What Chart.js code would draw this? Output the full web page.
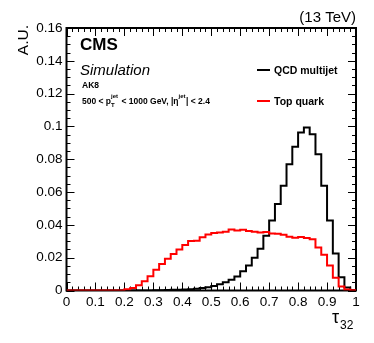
<!DOCTYPE html>
<html>
<head>
<meta charset="utf-8">
<script src="https://cdn.jsdelivr.net/npm/chart.js@4"></script>
<style>
  html, body { margin: 0; padding: 0; background: #fff; }
  canvas { display: block; }
</style>
</head>
<body>
<canvas id="tauChart" width="374" height="343"></canvas>
<script>
// tau32 distribution, 50 bins of 0.02 between 0 and 1
var binWidth = 0.02;
var nBins = 50;

var qcdValues = [
  0, 0, 0, 0, 0, 0, 0, 0, 0, 0,
  0, 0, 0, 0, 0, 0.0001, 0.0002, 0.0003, 0.0004, 0.0005,
  0.0006, 0.0008, 0.0011, 0.0015, 0.0020, 0.0028, 0.0038, 0.0050, 0.0066, 0.0086,
  0.0117, 0.0152, 0.0200, 0.0254, 0.0334, 0.0427, 0.0527, 0.0639, 0.0770, 0.0876,
  0.0963, 0.0993, 0.0953, 0.0831, 0.0639, 0.0426, 0.0225, 0.0081, 0.0018, 0.0003
];

var topValues = [
  0, 0, 0, 0, 0, 0, 0, 0, 0, 0,
  0.0008, 0.0016, 0.0032, 0.0056, 0.0087, 0.0127, 0.0162, 0.0193, 0.0222, 0.0250,
  0.0277, 0.0302, 0.0304, 0.0324, 0.0342, 0.0350, 0.0353, 0.0358, 0.0372, 0.0366,
  0.0370, 0.0363, 0.0358, 0.0354, 0.0357, 0.0348, 0.0346, 0.0340, 0.0328, 0.0322,
  0.0326, 0.0320, 0.0312, 0.0262, 0.0218, 0.0152, 0.0078, 0.0025, 0.0006, 0.0001
];

var xTicks = [0, 0.1, 0.2, 0.3, 0.4, 0.5, 0.6, 0.7, 0.8, 0.9, 1];
var yTicks = [0, 0.02, 0.04, 0.06, 0.08, 0.1, 0.12, 0.14, 0.16];
var xMinorStep = 0.02;
var yMinorStep = 0.005;

var font = "'Liberation Sans', Arial, Helvetica, sans-serif";

// one point per lower bin edge, plus the upper edge of the last bin
function histPoints(vals) {
  var pts = vals.map(function(v, i) { return { x: i * binWidth, y: v }; });
  pts.push({ x: nBins * binWidth, y: vals[vals.length - 1] });
  return pts;
}

function fmt(v) {
  if (Math.abs(v) < 1e-9) return '0';
  return String(parseFloat(v.toFixed(3)));
}

var rootStyle = {
  id: 'rootStyle',
  beforeDatasetsDraw: function(chart) {
    var ctx = chart.ctx, a = chart.chartArea;
    var xs = chart.scales.x, ys = chart.scales.y;
    ctx.save();
    ctx.strokeStyle = '#000';
    ctx.lineWidth = 1;
    // minor + major ticks on all four sides, pointing inward
    function xTick(v, len) {
      var px = Math.round(xs.getPixelForValue(v)) + 0.5;
      ctx.beginPath();
      ctx.moveTo(px, a.bottom); ctx.lineTo(px, a.bottom - len);
      ctx.moveTo(px, a.top); ctx.lineTo(px, a.top + len);
      ctx.stroke();
    }
    function yTick(v, len) {
      var py = Math.round(ys.getPixelForValue(v)) + 0.5;
      ctx.beginPath();
      ctx.moveTo(a.left, py); ctx.lineTo(a.left + len, py);
      ctx.moveTo(a.right, py); ctx.lineTo(a.right - len, py);
      ctx.stroke();
    }
    for (var i = 0; i <= Math.round(1 / xMinorStep); i++) xTick(i * xMinorStep, 4);
    xTicks.forEach(function(v) { xTick(v, 8); });
    for (var j = 0; j <= Math.round(0.16 / yMinorStep); j++) yTick(j * yMinorStep, 4);
    yTicks.forEach(function(v) { yTick(v, 8); });

    ctx.lineWidth = 2;
    ctx.strokeRect(a.left, a.top, a.right - a.left, a.bottom - a.top);
    ctx.restore();
  },
  afterDraw: function(chart) {
    var ctx = chart.ctx, a = chart.chartArea;
    ctx.save();
    ctx.fillStyle = '#000';
    ctx.textBaseline = 'alphabetic';

    // energy label
    ctx.font = '15px ' + font;
    ctx.textAlign = 'right';
    ctx.fillText('(13 TeV)', a.right, 22);

    // y title
    ctx.save();
    ctx.translate(27.5, 25);
    ctx.rotate(-Math.PI / 2);
    ctx.font = '15.5px ' + font;
    ctx.textAlign = 'right';
    ctx.fillText('A.U.', 0, 0);
    ctx.restore();

    // x title tau_32
    ctx.textAlign = 'left';
    ctx.font = '18px ' + font;
    ctx.fillText('\u03c4', 332, 323);
    ctx.font = '12px ' + font;
    ctx.fillText('32', 340, 329);

    // CMS Simulation block
    ctx.font = 'bold 17px ' + font;
    ctx.fillText('CMS', 80, 50);
    ctx.font = 'italic 15px ' + font;
    ctx.fillText('Simulation', 80, 75);
    ctx.font = 'bold 8.5px ' + font;
    ctx.fillText('AK8', 82, 87.5);

    // 500 < pT^jet < 1000 GeV, |eta^jet| < 2.4
    var x = 82, base = 104;
    function piece(txt, size, dy) {
      ctx.font = 'bold ' + size + 'px ' + font;
      ctx.fillText(txt, x, base + dy);
      return ctx.measureText(txt).width;
    }
    x += piece('500 < p', 8.5, 0);
    var wT = piece('T', 6, 3);
    var wJ = piece('jet', 6, -6);
    x += Math.max(wT, wJ) + 1;
    x += piece(' < 1000 GeV, |\u03b7', 8.5, 0);
    x += piece('jet', 6, -6) + 0.5;
    piece('| < 2.4', 8.5, 0);

    // legend
    var legendRows = [
      { ds: chart.data.datasets[0], y: 70 },
      { ds: chart.data.datasets[1], y: 101 }
    ];
    legendRows.forEach(function(r) {
      ctx.strokeStyle = r.ds.borderColor;
      ctx.lineWidth = 2;
      ctx.beginPath();
      ctx.moveTo(257, r.y); ctx.lineTo(270, r.y);
      ctx.stroke();
      ctx.fillStyle = '#000';
      ctx.font = 'bold 10.5px ' + font;
      ctx.fillText(r.ds.label, 274, r.y + 4);
    });
    ctx.restore();
  }
};

new Chart(document.getElementById('tauChart'), {
  type: 'scatter',
  data: {
    datasets: [
      {
        label: 'QCD multijet',
        data: histPoints(qcdValues),
        showLine: true,
        stepped: 'before',
        borderColor: '#000000',
        borderWidth: 2,
        pointRadius: 0,
        order: 2
      },
      {
        label: 'Top quark',
        data: histPoints(topValues),
        showLine: true,
        stepped: 'before',
        borderColor: '#ff0000',
        borderWidth: 2,
        pointRadius: 0,
        order: 1
      }
    ]
  },
  options: {
    responsive: false,
    animation: false,
    events: [],
    layout: { padding: { left: 0, right: 18, top: 28, bottom: 0 } },
    plugins: { legend: { display: false }, tooltip: { enabled: false } },
    scales: {
      x: {
        type: 'linear', min: 0, max: 1,
        afterBuildTicks: function(s) { s.ticks = xTicks.map(function(v) { return { value: v }; }); },
        afterFit: function(s) { s.height = 52.5; },
        grid: { display: false, drawTicks: false },
        border: { display: false },
        ticks: {
          autoSkip: false, maxRotation: 0, padding: 4, color: '#000',
          font: { family: font, size: 13.5 },
          callback: function(v) { return fmt(v); }
        }
      },
      y: {
        type: 'linear', min: 0, max: 0.16,
        afterBuildTicks: function(s) { s.ticks = yTicks.map(function(v) { return { value: v }; }); },
        afterFit: function(s) { s.width = 66.5; },
        grid: { display: false, drawTicks: false },
        border: { display: false },
        ticks: {
          autoSkip: false, padding: 4, color: '#000',
          font: { family: font, size: 13.5 },
          callback: function(v) { return fmt(v); }
        }
      }
    }
  },
  plugins: [rootStyle]
});
</script>
</body>
</html>
